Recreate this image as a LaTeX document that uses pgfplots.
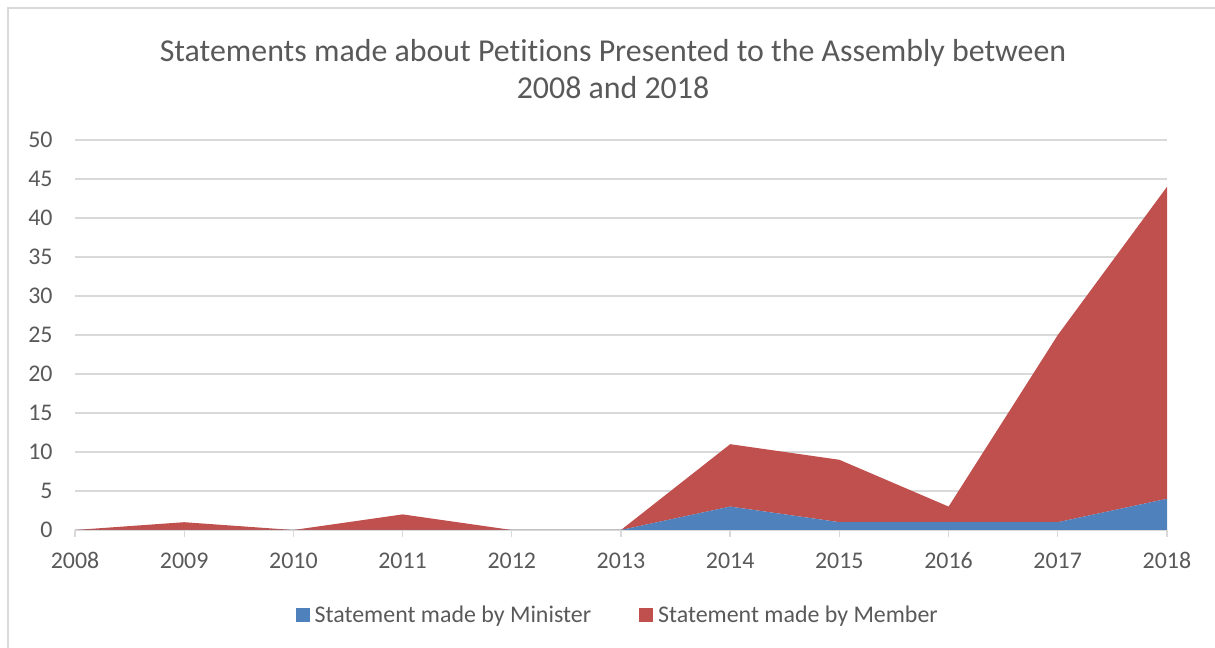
\documentclass[border=0pt]{standalone}
\usepackage{pgfplots}
\pgfplotsset{compat=1.18}
\usepackage{fontspec}
\setmainfont{Carlito}[RawFeature={-liga;-dlig}]
\definecolor{minblue}{HTML}{4F81BD}
\definecolor{memred}{HTML}{C0504D}
\definecolor{txtgray}{HTML}{595959}
\definecolor{gridgray}{HTML}{D9D9D9}
\begin{document}
\begin{tikzpicture}[x=1bp,y=1bp]
\path[use as bounding box] (0,0) rectangle (1215,648);
\draw[gridgray, line width=2bp] (8,0) -- (8,640) -- (1215,640);
\node[txtgray, font=\fontsize{32}{38}\selectfont, align=center] at (613,579) {Statements made about Petitions Presented to the Assembly between\\2008 and 2018};
\begin{axis}[
  at={(75bp,118bp)}, anchor=south west,
  scale only axis, width=1092bp, height=390bp,
  xmin=2008, xmax=2018, ymin=0, ymax=50,
  xtick={2008,2009,...,2018}, ytick={0,5,...,50},
  /pgf/number format/assume math mode=true,
  /pgf/number format/1000 sep={},
  axis x line*=bottom, axis y line*=left,
  x axis line style={gridgray, line width=1.3bp, -},
  y axis line style={draw=none},
  ymajorgrids, grid style={gridgray, line width=1.3bp},
  tick align=outside, major tick length=7bp,
  xtick style={gridgray, line width=1.3bp},
  ytick style={draw=none},
  ticklabel style={txtgray, font=\fontsize{24}{28}\selectfont},
  yticklabel style={xshift=-12bp},
  xticklabel style={yshift=-12bp},
  stack plots=y,
  legend style={at={(0.497,-0.218)}, anchor=center, draw=none, fill=none,
    legend columns=2, font=\fontsize{24}{28}\selectfont, text=txtgray,
    /tikz/every even column/.append style={column sep=46bp}},
  legend image code/.code={\fill[#1] (0bp,-7bp) rectangle (14bp,7bp);},
  legend cell align=left,
  clip=false,
]
\addplot[fill=minblue, draw=none] coordinates {
(2008,0) (2009,0) (2010,0) (2011,0) (2012,0) (2013,0) (2014,3) (2015,1) (2016,1) (2017,1) (2018,4)} \closedcycle;
\addlegendentry{\hspace{3bp}Statement made by Minister}
\addplot[fill=memred, draw=none] coordinates {
(2008,0) (2009,1) (2010,0) (2011,2) (2012,0) (2013,0) (2014,8) (2015,8) (2016,2) (2017,24) (2018,40)} \closedcycle;
\addlegendentry{\hspace{3bp}Statement made by Member}
\end{axis}
\end{tikzpicture}
\end{document}
